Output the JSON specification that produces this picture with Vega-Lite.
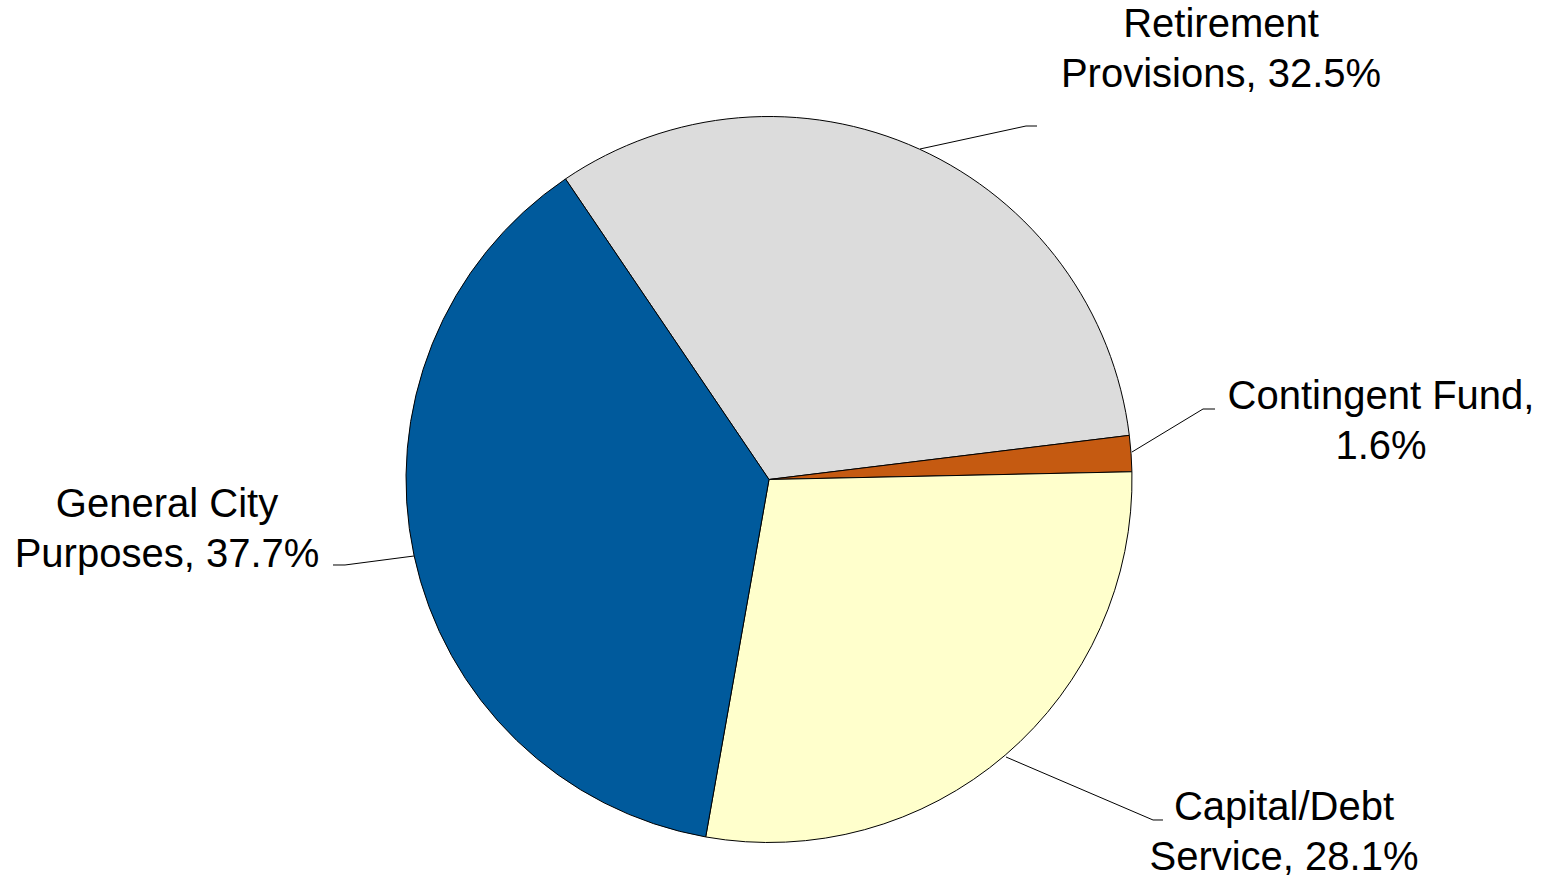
{
  "$schema": "https://vega.github.io/schema/vega-lite/v6.json",
  "width": 1548,
  "height": 879,
  "autosize": {"type": "fit", "contains": "padding"},
  "padding": 0,
  "background": "white",
  "config": {"view": {"stroke": null}},
  "datasets": {
    "slices": [
      {"category": "Retirement Provisions", "value": 32.5, "order": 1},
      {"category": "Contingent Fund", "value": 1.6, "order": 2},
      {"category": "Capital/Debt Service", "value": 28.1, "order": 3},
      {"category": "General City Purposes", "value": 37.7, "order": 4}
    ],
    "leaders": [
      {"category": "Retirement Provisions", "seq": 1, "ux": 0.416, "uy": 0.9105},
      {"category": "Retirement Provisions", "seq": 2, "ux": 0.708, "uy": 0.9738},
      {"category": "Retirement Provisions", "seq": 3, "ux": 0.7383, "uy": 0.9738},
      {"category": "Contingent Fund", "seq": 1, "ux": 1.0, "uy": 0.0758},
      {"category": "Contingent Fund", "seq": 2, "ux": 1.1956, "uy": 0.1942},
      {"category": "Contingent Fund", "seq": 3, "ux": 1.2287, "uy": 0.1942},
      {"category": "General City Purposes", "seq": 1, "ux": -0.978, "uy": -0.2107},
      {"category": "General City Purposes", "seq": 2, "ux": -1.168, "uy": -0.2355},
      {"category": "General City Purposes", "seq": 3, "ux": -1.2011, "uy": -0.2355},
      {"category": "Capital/Debt Service", "seq": 1, "ux": 0.6529, "uy": -0.7645},
      {"category": "Capital/Debt Service", "seq": 2, "ux": 1.0579, "uy": -0.938},
      {"category": "Capital/Debt Service", "seq": 3, "ux": 1.0854, "uy": -0.938}
    ],
    "labels": [
      {"label": "Retirement\nProvisions, 32.5%", "ux": 1.2452, "uy": 1.219},
      {"label": "Contingent Fund,\n1.6%", "ux": 1.686, "uy": 0.1942},
      {"label": "General City\nPurposes, 37.7%", "ux": -1.6584, "uy": -0.1033},
      {"label": "Capital/Debt\nService, 28.1%", "ux": 1.4187, "uy": -0.938}
    ]
  },
  "layer": [
    {
      "data": {"name": "slices"},
      "mark": {"type": "arc", "outerRadius": 363, "stroke": "black", "strokeWidth": 1},
      "encoding": {
        "x": {"datum": 0, "type": "quantitative", "scale": {"domain": [-2.11846, 2.14601], "nice": false, "zero": false}, "axis": null},
        "y": {"datum": 0, "type": "quantitative", "scale": {"domain": [-1.10055, 1.32094], "nice": false, "zero": false}, "axis": null},
        "theta": {"field": "value", "type": "quantitative", "stack": true, "scale": {"range": [-0.5952, 5.6880]}},
        "order": {"field": "order", "type": "quantitative"},
        "color": {
          "field": "category",
          "type": "nominal",
          "legend": null,
          "scale": {
            "domain": ["Retirement Provisions", "Contingent Fund", "Capital/Debt Service", "General City Purposes"],
            "range": ["#DCDCDC", "#C55A11", "#FFFFCC", "#005A9C"]
          }
        }
      }
    },
    {
      "data": {"name": "leaders"},
      "mark": {"type": "line", "color": "black", "strokeWidth": 1},
      "encoding": {
        "x": {"field": "ux", "type": "quantitative"},
        "y": {"field": "uy", "type": "quantitative"},
        "detail": {"field": "category", "type": "nominal"},
        "order": {"field": "seq", "type": "quantitative"}
      }
    },
    {
      "data": {"name": "labels"},
      "mark": {"type": "text", "lineBreak": "\n", "font": "Liberation Sans", "fontSize": 40, "lineHeight": 50, "align": "center", "baseline": "alphabetic", "color": "black"},
      "encoding": {
        "x": {"field": "ux", "type": "quantitative"},
        "y": {"field": "uy", "type": "quantitative"},
        "text": {"field": "label", "type": "nominal"}
      }
    }
  ]
}
